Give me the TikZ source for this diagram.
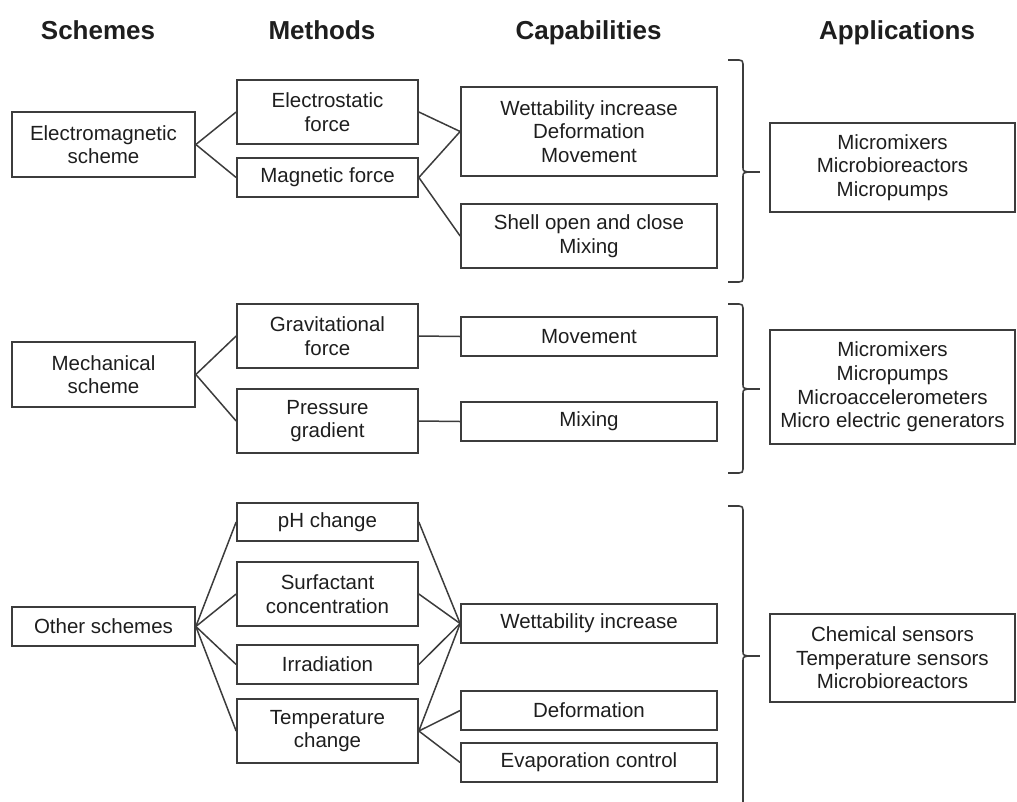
\documentclass[tikz,border=0pt]{standalone}
\usepackage{fontspec}
\setmainfont{Liberation Sans}
\definecolor{boxline}{HTML}{3C3C3C}
\definecolor{txt}{HTML}{1E1E1E}
% curly brace on the right of a capability group: top, tip, bottom (y values)
\newcommand\appbrace[3]{%
  \draw[brc] (728,#1) -- (739,#1) .. controls (742,#1) and (743,#1+1) .. (743,#1+4)
    -- (743,#2-5) .. controls (743,#2-1) .. (748,#2)
    .. controls (743,#2+1) .. (743,#2+5)
    -- (743,#3-4) .. controls (743,#3-1) and (742,#3) .. (739,#3) -- (728,#3);
  \draw[brc] (748,#2) -- (760,#2);}
\begin{document}
\begin{tikzpicture}[x=1pt,y=-1pt,
  box/.style={draw=boxline, line width=1.7pt, align=center, inner sep=0pt,
    text=txt, font=\fontsize{20.5}{23.6}\selectfont},
  scheme/.style={box, minimum width=183pt},
  method/.style={box, minimum width=181pt},
  capab/.style={box, minimum width=256pt},
  appl/.style={box, minimum width=245pt},
  head/.style={font=\bfseries\fontsize{26}{30}\selectfont, text=txt, anchor=base},
  link/.style={draw=boxline, line width=1.5pt},
  brc/.style={draw=boxline, line width=1.6pt, line join=round}]
\useasboundingbox (0,0) rectangle (1017,801);
\clip (0,0) rectangle (1017,801);

% column headings
\node[head] (hs) at (98,39) {Schemes};
\node[head] (hm) at (322,39) {Methods};
\node[head] (hc) at (588.5,39) {Capabilities};
\node[head] (ha) at (897,39) {Applications};

% schemes
\node[scheme, minimum height=65pt] (em) at (103.5,144.5) {Electromagnetic\\scheme};
\node[scheme, minimum height=65pt] (mech) at (103.5,374.5) {Mechanical\\scheme};
\node[scheme, minimum height=39pt] (oth) at (103.5,626.5) {Other schemes};

% methods
\node[method, minimum height=64pt] (estat) at (327.5,112) {Electrostatic\\force};
\node[method, minimum height=39pt] (magn) at (327.5,177.5) {Magnetic force};
\node[method, minimum height=64pt] (grav) at (327.5,336) {Gravitational\\force};
\node[method, minimum height=64pt] (press) at (327.5,421) {Pressure\\gradient};
\node[method, minimum height=38pt] (ph) at (327.5,522) {pH change};
\node[method, minimum height=64pt] (surf) at (327.5,594) {Surfactant\\concentration};
\node[method, minimum height=39pt] (irr) at (327.5,664.5) {Irradiation};
\node[method, minimum height=64pt] (temp) at (327.5,731) {Temperature\\change};

% capabilities
\node[capab, minimum height=89pt] (c1) at (589,131.5) {Wettability increase\\Deformation\\Movement};
\node[capab, minimum height=64pt] (shell) at (589,236) {Shell open and close\\Mixing};
\node[capab, minimum height=39pt] (mov) at (589,336.5) {Movement};
\node[capab, minimum height=39pt] (mix) at (589,421.5) {Mixing};
\node[capab, minimum height=39pt] (wett) at (589,623.5) {Wettability increase};
\node[capab, minimum height=39pt] (def) at (589,710.5) {Deformation};
\node[capab, minimum height=39pt] (evap) at (589,762.5) {Evaporation control};

% applications
\node[appl, minimum height=89pt] (a1) at (892.5,167.5) {Micromixers\\Microbioreactors\\Micropumps};
\node[appl, minimum height=114pt] (a2) at (892.5,387) {Micromixers\\Micropumps\\Microaccelerometers\\Micro electric generators};
\node[appl, minimum height=88pt] (a3) at (892.5,658) {Chemical sensors\\Temperature sensors\\Microbioreactors};

% scheme -> method
\draw[link] (em.east) -- (estat.west);
\draw[link] (em.east) -- (magn.west);
\draw[link] (mech.east) -- (grav.west);
\draw[link] (mech.east) -- (press.west);
\foreach \m in {ph,surf,irr,temp} \draw[link] (oth.east) -- (\m.west);

% method -> capability
\draw[link] (estat.east) -- (c1.west);
\draw[link] (magn.east) -- (c1.west);
\draw[link] (magn.east) -- (shell.west);
\draw[link] (grav.east) -- (mov.west);
\draw[link] (press.east) -- (mix.west);
\foreach \m in {ph,surf,irr,temp} \draw[link] (\m.east) -- (wett.west);
\draw[link] (temp.east) -- (def.west);
\draw[link] (temp.east) -- (evap.west);

% braces gathering capabilities into applications
\appbrace{60}{172}{282}
\appbrace{304}{389}{473}
\appbrace{506}{656}{806}
\end{tikzpicture}
\end{document}
